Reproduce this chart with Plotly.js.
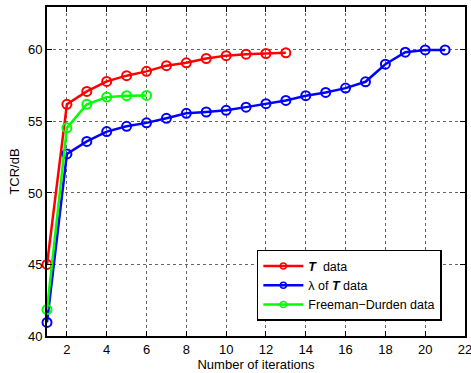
<!DOCTYPE html>
<html><head><meta charset="utf-8">
<script src="https://cdn.plot.ly/plotly-3.0.1.min.js"></script>
<style>html,body{margin:0;padding:0;background:#fff}</style>
</head><body><div id="chart" style="width:471px;height:373px"></div>
<script>
const xT = [1,2,3,4,5,6,7,8,9,10,11,12,13];
const yT = [45.0,56.2,57.1,57.8,58.2,58.5,58.9,59.1,59.4,59.6,59.7,59.75,59.8];
const xL = [1,2,3,4,5,6,7,8,9,10,11,12,13,14,15,16,17,18,19,20,21];
const yL = [40.95,52.73,53.6,54.29,54.66,54.9,55.22,55.57,55.66,55.78,56.0,56.24,56.47,56.8,57.03,57.33,57.77,59.0,59.84,60.0,60.0];
const xF = [1,2,3,4,5,6];
const yF = [41.85,54.55,56.2,56.7,56.8,56.82];
const names = ['<b><i>T</i></b>  data','λ of <b><i>T</i></b> data','Freeman−Durden data'];
const colors = ['#ff0000','#0000ff','#00ff00'];
const series = [[xT,yT],[xL,yL],[xF,yF]];
const traces = series.map((s,i)=>({
  x:s[0], y:s[1], name:names[i], type:'scatter', mode:'lines+markers',
  cliponaxis:false, showlegend:false,
  line:{color:colors[i], width:2.5},
  marker:{symbol:'circle-open', size:9, color:colors[i], line:{width:2, color:colors[i]}}
}));
// legend entries (smaller markers like the reference legend)
series.forEach((s,i)=>traces.push({
  x:[null], y:[null], name:names[i], type:'scatter', mode:'lines+markers',
  line:{color:colors[i], width:2.5},
  marker:{symbol:'circle-open', size:6, color:colors[i], line:{width:1.5, color:colors[i]}}
}));
const ax = {
  showline:true, linecolor:'#000', linewidth:2, mirror:'allticks',
  ticks:'inside', ticklen:5, tickcolor:'#000', tickwidth:1,
  showgrid:true, gridcolor:'#666', griddash:'dot', gridwidth:1,
  zeroline:false, tickfont:{size:13, color:'#000'}, ticklabeloverflow:'allow'
};
const layout = {
  width:471, height:373,
  margin:{l:47, r:6, t:7, b:37},
  paper_bgcolor:'#fff', plot_bgcolor:'#fff',
  font:{family:'Liberation Sans, Arial, sans-serif', size:13, color:'#000'},
  xaxis:Object.assign({}, ax, {range:[1,22], tick0:0, dtick:2,
    title:{text:'Number of iterations', font:{size:13}, standoff:1}}),
  yaxis:Object.assign({}, ax, {range:[40,63], tick0:40, dtick:5,
    title:{text:'TCR/dB', font:{size:13}, standoff:5}}),
  showlegend:true,
  legend:{x:0.502, y:0.262, xanchor:'left', yanchor:'top',
    bgcolor:'#fff', bordercolor:'#000', borderwidth:1.5,
    font:{size:12.5, color:'#000'}, tracegroupgap:0, itemwidth:40}
};
Plotly.newPlot('chart', traces, layout, {displayModeBar:false, staticPlot:true});
</script></body></html>
